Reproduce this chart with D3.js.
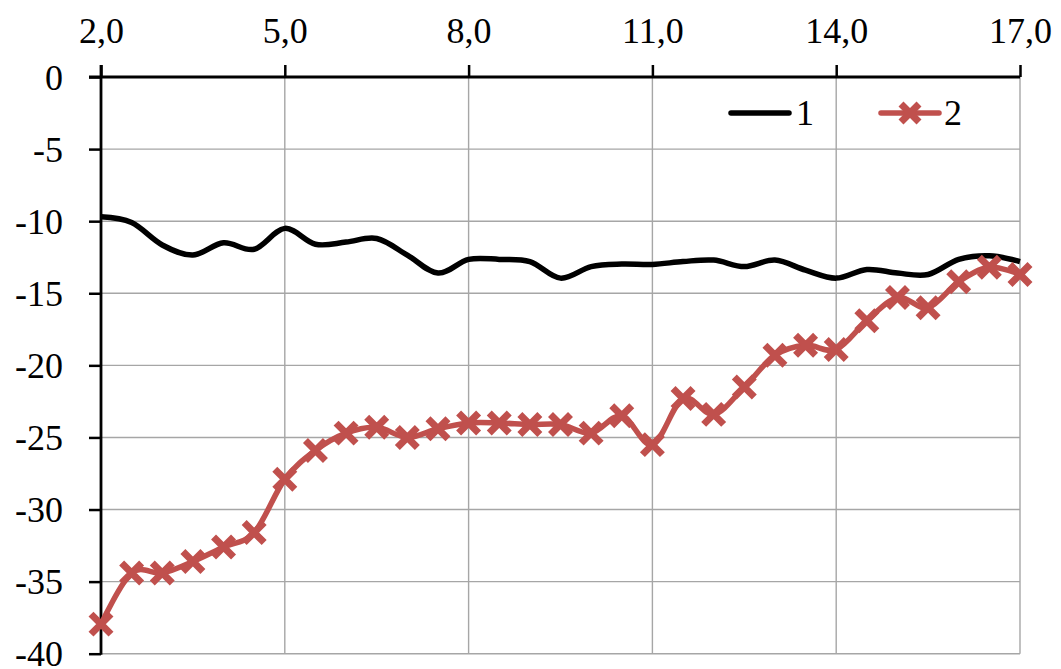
<!DOCTYPE html>
<html>
<head>
<meta charset="utf-8">
<script src="https://cdnjs.cloudflare.com/ajax/libs/d3/7.8.5/d3.min.js"></script>
<style>
  body { margin: 0; background: #fff; }
  svg { display: block; font-family: "Liberation Serif", "Times New Roman", serif; }
</style>
</head>
<body>
<svg id="chart"></svg>
<script>
const xValues = [2, 2.5, 3, 3.5, 4, 4.5, 5, 5.5, 6, 6.5, 7, 7.5, 8, 8.5, 9, 9.5, 10,
                 10.5, 11, 11.5, 12, 12.5, 13, 13.5, 14, 14.5, 15, 15.5, 16, 16.5, 17];

const series1 = [-9.7, -10.1, -11.65, -12.35, -11.5, -11.95, -10.5, -11.6, -11.45, -11.2, -12.35,
                 -13.6, -12.65, -12.65, -12.8, -13.95, -13.15, -12.97, -13.0, -12.8, -12.7, -13.15,
                 -12.7, -13.4, -13.95, -13.35, -13.6, -13.7, -12.65, -12.4, -12.8];

const series2 = [-37.95, -34.4, -34.4, -33.6, -32.6, -31.6, -27.9, -25.9, -24.7, -24.3, -25.0,
                 -24.4, -24.0, -24.0, -24.1, -24.1, -24.7, -23.5, -25.5, -22.3, -23.4, -21.5,
                 -19.3, -18.6, -18.9, -16.9, -15.3, -16.0, -14.2, -13.2, -13.7];

const xTicks = [2, 5, 8, 11, 14, 17];
const yTicks = [0, -5, -10, -15, -20, -25, -30, -35, -40];
const seriesNames = ["1", "2"];

var width = 1061,
    height = 669,
    redColor = "#c0504d",
    gridColor = "#a6a6a6",
    fontFamily = "'Liberation Serif', 'Times New Roman', serif",
    fontSize = "36px",
    markerSize = 10;

var svg = d3.select("#chart")
    .attr("width", width)
    .attr("height", height);

const x = d3.scaleLinear()
    .domain([2, 17])
    .range([101, 1020]);

const y = d3.scaleLinear()
    .domain([-40, 0])
    .range([653.7, 77]);

// grid lines
svg.append("g")
    .selectAll("line")
    .data(xTicks.slice(1))
    .join("line")
    .attr("x1", d => x(d)).attr("x2", d => x(d))
    .attr("y1", y(0)).attr("y2", y(-40))
    .attr("stroke", gridColor)
    .attr("stroke-width", 1.4);

svg.append("g")
    .selectAll("line")
    .data(yTicks.slice(1))
    .join("line")
    .attr("x1", x(2)).attr("x2", x(17))
    .attr("y1", d => y(d)).attr("y2", d => y(d))
    .attr("stroke", gridColor)
    .attr("stroke-width", 1.4);

// axes
const xAxis = d3.axisTop(x)
    .tickValues(xTicks)
    .tickSize(12)
    .tickPadding(22)
    .tickFormat(d => d3.format(".1f")(d).replace(".", ","));

const yAxis = d3.axisLeft(y)
    .tickValues(yTicks)
    .tickSize(12)
    .tickPadding(26)
    .tickFormat(d => String(d));

var gx = svg.append("g")
    .attr("transform", "translate(0," + y(0) + ")")
    .call(xAxis);

var gy = svg.append("g")
    .attr("transform", "translate(" + x(2) + ",0)")
    .call(yAxis);

[gx, gy].forEach(function (g) {
    g.attr("font-family", fontFamily).attr("font-size", fontSize);
    g.select(".domain").remove();
    g.selectAll(".tick line").attr("stroke", "#000").attr("stroke-width", 2.5);
    g.selectAll(".tick text").attr("fill", "#000");
});

gx.selectAll(".tick text").attr("dy", "0");
gy.selectAll(".tick text").attr("dy", "0.34em");

svg.append("line")
    .attr("x1", x(2) - 12).attr("x2", x(17))
    .attr("y1", y(0)).attr("y2", y(0))
    .attr("stroke", "#000").attr("stroke-width", 2.8);

svg.append("line")
    .attr("x1", x(2)).attr("x2", x(2))
    .attr("y1", y(0) - 12).attr("y2", y(-40) + 1)
    .attr("stroke", "#000").attr("stroke-width", 2.8);

// lines
const line = d3.line()
    .x((d, i) => x(xValues[i]))
    .y(d => y(d))
    .curve(d3.curveCardinal.tension(0));

svg.append("path")
    .datum(series1)
    .attr("fill", "none")
    .attr("stroke", "#000")
    .attr("stroke-width", 5.5)
    .attr("stroke-linejoin", "round")
    .attr("d", line);

svg.append("path")
    .datum(series2)
    .attr("fill", "none")
    .attr("stroke", redColor)
    .attr("stroke-width", 5.5)
    .attr("stroke-linejoin", "round")
    .attr("d", line);

const crossPath = function (cx, cy, r) {
    return "M" + (cx - r) + "," + (cy - r) + "L" + (cx + r) + "," + (cy + r) +
           "M" + (cx - r) + "," + (cy + r) + "L" + (cx + r) + "," + (cy - r);
};

svg.append("g")
    .selectAll("path")
    .data(series2)
    .join("path")
    .attr("d", (d, i) => crossPath(x(xValues[i]), y(d), markerSize))
    .attr("stroke", redColor)
    .attr("stroke-width", 7)
    .attr("fill", "none");

// legend
var legend = svg.append("g")
    .attr("font-family", fontFamily)
    .attr("font-size", fontSize);

legend.append("line")
    .attr("x1", 731).attr("x2", 789)
    .attr("y1", 113).attr("y2", 113)
    .attr("stroke", "#000").attr("stroke-width", 5.5)
    .attr("stroke-linecap", "round");

legend.append("text")
    .attr("x", 796).attr("y", 113)
    .attr("dy", "0.34em")
    .text(seriesNames[0]);

legend.append("line")
    .attr("x1", 881).attr("x2", 939)
    .attr("y1", 113).attr("y2", 113)
    .attr("stroke", redColor).attr("stroke-width", 5.5)
    .attr("stroke-linecap", "round");

legend.append("path")
    .attr("d", crossPath(910, 113, markerSize - 1))
    .attr("stroke", redColor)
    .attr("stroke-width", 7)
    .attr("fill", "none");

legend.append("text")
    .attr("x", 944).attr("y", 113)
    .attr("dy", "0.34em")
    .text(seriesNames[1]);
</script>
</body>
</html>
